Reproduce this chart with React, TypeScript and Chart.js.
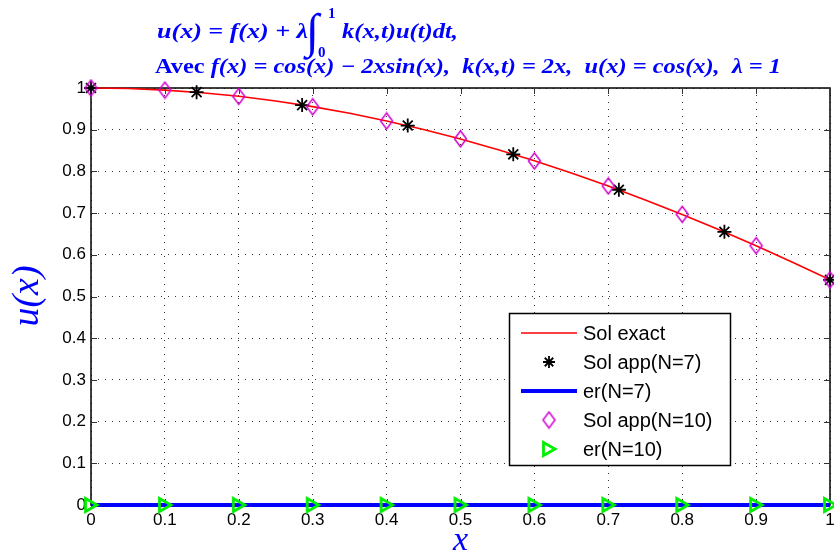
import React, { useEffect, useRef } from "react";
import { Chart, registerables } from "chart.js";

Chart.register(...registerables);

// ---- Data ----
const exactX = [0, 0.05, 0.1, 0.15, 0.2, 0.25, 0.3, 0.35, 0.4, 0.45, 0.5, 0.55, 0.6, 0.65, 0.7, 0.75, 0.8, 0.85, 0.9, 0.95, 1];
const exactY = [1, 0.99875, 0.995, 0.98877, 0.98007, 0.96891, 0.95534, 0.93937, 0.92106, 0.90045, 0.87758, 0.85252, 0.82534, 0.79608, 0.76484, 0.73169, 0.69671, 0.65998, 0.62161, 0.58168, 0.5403];

const n7X = [0, 0.1429, 0.2857, 0.4286, 0.5714, 0.7143, 0.8571, 1];
const n7Y = [1, 0.99, 0.959, 0.91, 0.841, 0.756, 0.655, 0.54];
const er7Y = [0, 0, 0, 0, 0, 0, 0, 0];

const n10X = [0, 0.1, 0.2, 0.3, 0.4, 0.5, 0.6, 0.7, 0.8, 0.9, 1];
const n10Y = [1, 0.995, 0.98, 0.955, 0.921, 0.878, 0.825, 0.765, 0.697, 0.622, 0.54];
const er10Y = [0, 0, 0, 0, 0, 0, 0, 0, 0, 0, 0];

const tickValues = [0, 0.1, 0.2, 0.3, 0.4, 0.5, 0.6, 0.7, 0.8, 0.9, 1];
const tickLabels = ["0", "0.1", "0.2", "0.3", "0.4", "0.5", "0.6", "0.7", "0.8", "0.9", "1"];

const legendLabels = ["Sol exact", "Sol app(N=7)", "er(N=7)", "Sol app(N=10)", "er(N=10)"];

const BLUE = "#0000ff";
const RED = "#ff0000";
const MAGENTA = "#d000d0";
const GREEN = "#00ee00";

function pts(xs: number[], ys: number[]) {
  return xs.map((x, i) => ({ x, y: ys[i] }));
}

function makeDiamond(): HTMLCanvasElement {
  const c = document.createElement("canvas");
  c.width = 15;
  c.height = 19;
  const g = c.getContext("2d")!;
  g.strokeStyle = MAGENTA;
  g.lineWidth = 1.5;
  g.beginPath();
  g.moveTo(7.5, 1.5);
  g.lineTo(13.5, 9.5);
  g.lineTo(7.5, 17.5);
  g.lineTo(1.5, 9.5);
  g.closePath();
  g.stroke();
  return c;
}

function makeTriangle(): HTMLCanvasElement {
  const c = document.createElement("canvas");
  c.width = 18;
  c.height = 18;
  const g = c.getContext("2d")!;
  g.strokeStyle = GREEN;
  g.lineWidth = 2.8;
  g.lineJoin = "miter";
  g.beginPath();
  g.moveTo(3.5, 2.5);
  g.lineTo(15, 9);
  g.lineTo(3.5, 15.5);
  g.closePath();
  g.stroke();
  return c;
}

function drawStar(ctx: CanvasRenderingContext2D, x: number, y: number, r: number) {
  ctx.save();
  ctx.strokeStyle = "#000";
  ctx.lineWidth = 1.8;
  ctx.beginPath();
  for (let k = 0; k < 4; k++) {
    const a = (k * Math.PI) / 4;
    ctx.moveTo(x - r * Math.cos(a), y - r * Math.sin(a));
    ctx.lineTo(x + r * Math.cos(a), y + r * Math.sin(a));
  }
  ctx.stroke();
  ctx.restore();
}

type Run = { t: string; f: string };

function runsWidth(ctx: CanvasRenderingContext2D, runs: Run[]) {
  let w = 0;
  for (const r of runs) {
    ctx.font = r.f;
    w += ctx.measureText(r.t).width;
  }
  return w;
}

function drawRuns(ctx: CanvasRenderingContext2D, runs: Run[], x: number, y: number) {
  let cx = x;
  for (const r of runs) {
    ctx.font = r.f;
    ctx.fillText(r.t, cx, y);
    cx += ctx.measureText(r.t).width;
  }
  return cx;
}

// draw runs stretched horizontally so they span exactly [x0, x1]
function drawFit(ctx: CanvasRenderingContext2D, runs: Run[], x0: number, x1: number, y: number) {
  const w = runsWidth(ctx, runs);
  ctx.save();
  ctx.translate(x0, y);
  ctx.scale((x1 - x0) / w, 1);
  drawRuns(ctx, runs, 0, 0);
  ctx.restore();
}

function makeDecorPlugin(diamond: HTMLCanvasElement, triangle: HTMLCanvasElement) {
  return {
    id: "decor",
    beforeDatasetsDraw(chart: any) {
      const { ctx, chartArea: a, scales } = chart;
      ctx.save();
      ctx.strokeStyle = "#000";
      ctx.lineWidth = 1.5;
      ctx.strokeRect(a.left, a.top, a.right - a.left, a.bottom - a.top);
      ctx.lineWidth = 1;
      ctx.strokeStyle = "#333";
      ctx.beginPath();
      for (const v of tickValues) {
        const px = Math.round(scales.x.getPixelForValue(v)) + 0.5;
        ctx.moveTo(px, a.bottom);
        ctx.lineTo(px, a.bottom - 6);
        ctx.moveTo(px, a.top);
        ctx.lineTo(px, a.top + 6);
        const py = Math.round(scales.y.getPixelForValue(v)) + 0.5;
        ctx.moveTo(a.left, py);
        ctx.lineTo(a.left + 6, py);
        ctx.moveTo(a.right, py);
        ctx.lineTo(a.right - 6, py);
      }
      ctx.stroke();
      ctx.restore();
    },
    afterDraw(chart: any) {
      const { ctx, chartArea: a } = chart;
      ctx.save();
      // ---- Title ----
      ctx.fillStyle = BLUE;
      ctx.textBaseline = "alphabetic";
      ctx.textAlign = "left";
      const fam = '"Liberation Serif", "DejaVu Serif", serif';
      const size = 21;
      const bi = `italic bold ${size}px ${fam}`;
      const bu = `bold ${size}px ${fam}`;
      drawFit(
        ctx,
        [
          { t: "Avec ", f: bu },
          { t: "f(x) = cos(x) \u2212 2xsin(x),  k(x,t) = 2x,  u(x) = cos(x),  \u03bb = 1", f: bi },
        ],
        155,
        781,
        73
      );
      drawFit(ctx, [{ t: "u(x) = f(x) + \u03bb", f: bi }], 157, 308, 38);
      ctx.font = `italic 48px ${fam}`;
      ctx.fillText("\u222b", 306, 47);
      ctx.font = `bold 15px ${fam}`;
      ctx.fillText("1", 328, 18);
      ctx.fillText("0", 318, 57);
      drawFit(ctx, [{ t: "k(x,t)u(t)dt,", f: bi }], 342, 458, 38);

      // ---- Axis titles ----
      ctx.fillStyle = BLUE;
      ctx.textAlign = "center";
      ctx.textBaseline = "middle";
      ctx.font = `italic 34px ${fam}`;
      ctx.fillText("x", (a.left + a.right) / 2, 541);
      ctx.save();
      ctx.translate(28, 296);
      ctx.rotate(-Math.PI / 2);
      ctx.font = `italic 38px ${fam}`;
      ctx.fillText("u(x)", 0, 0);
      ctx.restore();

      // ---- Legend ----
      const lx = 509.5, ly = 313.5, lw = 221, lh = 152;
      ctx.fillStyle = "#fff";
      ctx.fillRect(lx, ly, lw, lh);
      ctx.strokeStyle = "#000";
      ctx.lineWidth = 1.5;
      ctx.strokeRect(lx, ly, lw, lh);
      const rows = [333, 362, 391, 420, 449];
      const sx0 = 521, sx1 = 577, mx = 549, tx = 583;
      ctx.strokeStyle = RED;
      ctx.lineWidth = 1.5;
      ctx.beginPath();
      ctx.moveTo(sx0, rows[0]);
      ctx.lineTo(sx1, rows[0]);
      ctx.stroke();
      drawStar(ctx, mx, rows[1], 6);
      ctx.strokeStyle = BLUE;
      ctx.lineWidth = 4;
      ctx.beginPath();
      ctx.moveTo(sx0, rows[2]);
      ctx.lineTo(sx1, rows[2]);
      ctx.stroke();
      ctx.drawImage(diamond, mx - diamond.width / 2, rows[3] - diamond.height / 2);
      ctx.drawImage(triangle, mx - triangle.width / 2, rows[4] - triangle.height / 2);
      ctx.fillStyle = "#000";
      ctx.textAlign = "left";
      ctx.textBaseline = "middle";
      ctx.font = '20px "Liberation Sans", Arial, sans-serif';
      legendLabels.forEach((lab, i) => ctx.fillText(lab, tx, rows[i] + 1));
      ctx.restore();
    },
  };
}

export default function App() {
  const ref = useRef<HTMLCanvasElement | null>(null);

  useEffect(() => {
    if (!ref.current) return;
    const diamond = makeDiamond();
    const triangle = makeTriangle();
    const tickFont = { family: '"Liberation Sans", Arial, sans-serif', size: 17 };
    const labelFor = (v: number) => {
      const i = Math.round(Number(v) * 10);
      return tickLabels[i] ?? "";
    };
    const chart = new Chart(ref.current, {
      type: "line",
      data: {
        datasets: [
          {
            label: legendLabels[0],
            data: pts(exactX, exactY),
            borderColor: RED,
            borderWidth: 1.6,
            pointRadius: 0,
            tension: 0,
            clip: false,
            order: 5,
          },
          {
            label: legendLabels[1],
            data: pts(n7X, n7Y),
            showLine: false,
            pointStyle: "star",
            pointRadius: 7,
            borderColor: "#000",
            backgroundColor: "#000",
            pointBorderWidth: 1.8,
            clip: false,
            order: 4,
          },
          {
            label: legendLabels[2],
            data: pts(n7X, er7Y),
            borderColor: BLUE,
            borderWidth: 4,
            pointRadius: 0,
            clip: false,
            order: 3,
          },
          {
            label: legendLabels[3],
            data: pts(n10X, n10Y),
            showLine: false,
            pointStyle: diamond,
            pointRadius: 7,
            borderColor: MAGENTA,
            backgroundColor: "transparent",
            clip: false,
            order: 2,
          },
          {
            label: legendLabels[4],
            data: pts(n10X, er10Y),
            showLine: false,
            pointStyle: triangle,
            pointRadius: 7,
            borderColor: GREEN,
            backgroundColor: "transparent",
            clip: false,
            order: 1,
          },
        ] as any,
      },
      options: {
        responsive: false,
        animation: false,
        devicePixelRatio: 1,
        layout: { autoPadding: false, padding: { left: 46, right: 4, top: 88, bottom: 0 } },
        plugins: {
          legend: { display: false },
          tooltip: { enabled: false },
          title: { display: false },
        },
        scales: {
          x: {
            type: "linear",
            min: 0,
            max: 1,
            afterFit: (s: any) => {
              s.height = 53;
              s.paddingLeft = 0;
              s.paddingRight = 0;
            },
            afterBuildTicks: (s: any) => {
              s.ticks = tickValues.map((v) => ({ value: v }));
            },
            ticks: {
              color: "#000",
              font: tickFont,
              padding: 5,
              maxRotation: 0,
              autoSkip: false,
              callback: labelFor,
            },
            grid: {
              color: "rgba(0,0,0,0.8)",
              lineWidth: 1,
              drawTicks: false,
            },
            border: { display: false, dash: [1, 6] },
          },
          y: {
            type: "linear",
            min: 0,
            max: 1,
            afterFit: (s: any) => {
              s.width = 45;
              s.paddingTop = 0;
              s.paddingBottom = 0;
            },
            afterBuildTicks: (s: any) => {
              s.ticks = tickValues.map((v) => ({ value: v }));
            },
            ticks: {
              color: "#000",
              font: tickFont,
              padding: 5,
              autoSkip: false,
              callback: labelFor,
            },
            grid: {
              color: "rgba(0,0,0,0.8)",
              lineWidth: 1,
              drawTicks: false,
            },
            border: { display: false, dash: [1, 6] },
          },
        },
      },
      plugins: [makeDecorPlugin(diamond, triangle)],
    });
    return () => chart.destroy();
  }, []);

  return (
    <div style={{ position: "absolute", left: 0, top: 0, width: 834, height: 558, background: "#fff" }}>
      <canvas ref={ref} width={834} height={558} style={{ display: "block" }} />
    </div>
  );
}
